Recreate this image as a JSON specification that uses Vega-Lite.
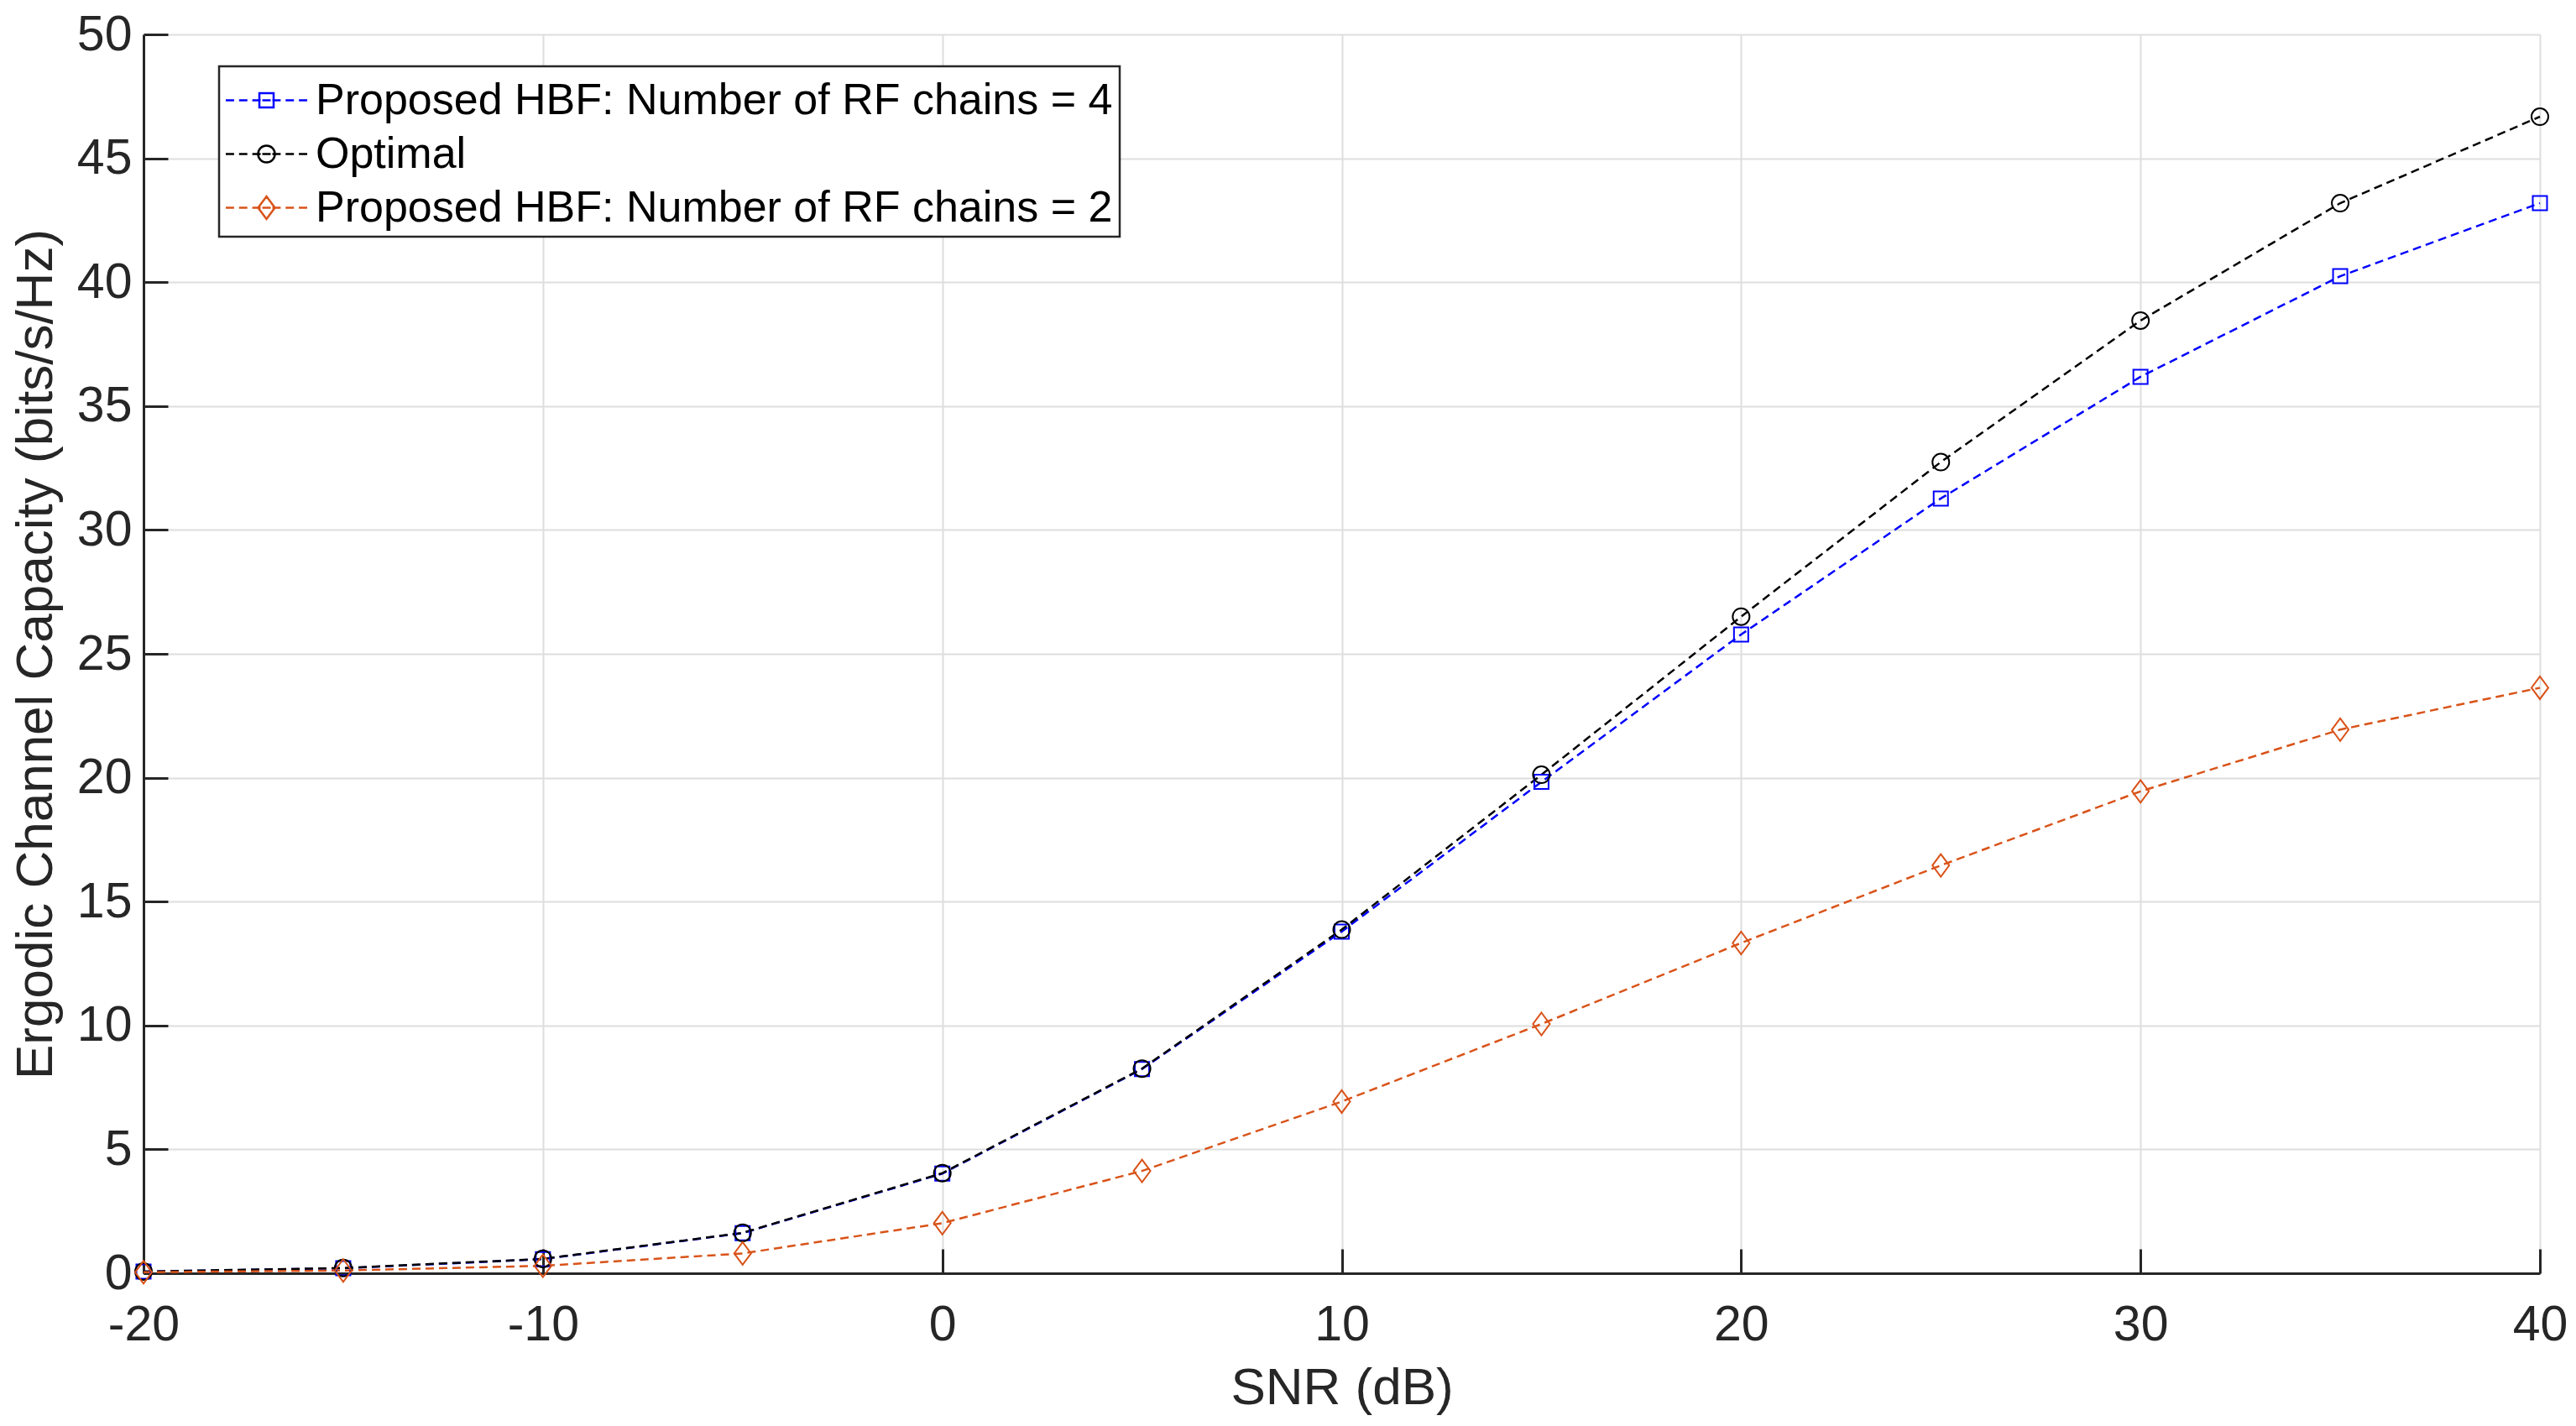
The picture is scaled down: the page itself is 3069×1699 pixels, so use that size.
{
  "$schema": "https://vega.github.io/schema/vega-lite/v6.json",
  "width": 2855,
  "height": 1476,
  "autosize": {"type": "none"},
  "padding": {"left": 171, "top": 41, "right": 43, "bottom": 182},
  "background": "white",
  "config": {"view": {"stroke": null}, "font": "Liberation Sans"},
  "data": {
    "values": [
      {"series": "Proposed HBF: Number of RF chains = 4", "snr": -20, "capacity": 0.07},
      {"series": "Proposed HBF: Number of RF chains = 4", "snr": -15, "capacity": 0.2},
      {"series": "Proposed HBF: Number of RF chains = 4", "snr": -10, "capacity": 0.57},
      {"series": "Proposed HBF: Number of RF chains = 4", "snr": -5, "capacity": 1.62},
      {"series": "Proposed HBF: Number of RF chains = 4", "snr": 0, "capacity": 4.02},
      {"series": "Proposed HBF: Number of RF chains = 4", "snr": 5, "capacity": 8.24},
      {"series": "Proposed HBF: Number of RF chains = 4", "snr": 10, "capacity": 13.79},
      {"series": "Proposed HBF: Number of RF chains = 4", "snr": 15, "capacity": 19.83},
      {"series": "Proposed HBF: Number of RF chains = 4", "snr": 20, "capacity": 25.78},
      {"series": "Proposed HBF: Number of RF chains = 4", "snr": 25, "capacity": 31.27},
      {"series": "Proposed HBF: Number of RF chains = 4", "snr": 30, "capacity": 36.18},
      {"series": "Proposed HBF: Number of RF chains = 4", "snr": 35, "capacity": 40.24},
      {"series": "Proposed HBF: Number of RF chains = 4", "snr": 40, "capacity": 43.19},
      {"series": "Optimal", "snr": -20, "capacity": 0.07},
      {"series": "Optimal", "snr": -15, "capacity": 0.21},
      {"series": "Optimal", "snr": -10, "capacity": 0.58},
      {"series": "Optimal", "snr": -5, "capacity": 1.63},
      {"series": "Optimal", "snr": 0, "capacity": 4.04},
      {"series": "Optimal", "snr": 5, "capacity": 8.26},
      {"series": "Optimal", "snr": 10, "capacity": 13.87},
      {"series": "Optimal", "snr": 15, "capacity": 20.12},
      {"series": "Optimal", "snr": 20, "capacity": 26.5},
      {"series": "Optimal", "snr": 25, "capacity": 32.74},
      {"series": "Optimal", "snr": 30, "capacity": 38.45},
      {"series": "Optimal", "snr": 35, "capacity": 43.19},
      {"series": "Optimal", "snr": 40, "capacity": 46.68},
      {"series": "Proposed HBF: Number of RF chains = 2", "snr": -20, "capacity": 0.04},
      {"series": "Proposed HBF: Number of RF chains = 2", "snr": -15, "capacity": 0.11},
      {"series": "Proposed HBF: Number of RF chains = 2", "snr": -10, "capacity": 0.3},
      {"series": "Proposed HBF: Number of RF chains = 2", "snr": -5, "capacity": 0.8},
      {"series": "Proposed HBF: Number of RF chains = 2", "snr": 0, "capacity": 2.02},
      {"series": "Proposed HBF: Number of RF chains = 2", "snr": 5, "capacity": 4.13},
      {"series": "Proposed HBF: Number of RF chains = 2", "snr": 10, "capacity": 6.93},
      {"series": "Proposed HBF: Number of RF chains = 2", "snr": 15, "capacity": 10.06},
      {"series": "Proposed HBF: Number of RF chains = 2", "snr": 20, "capacity": 13.33},
      {"series": "Proposed HBF: Number of RF chains = 2", "snr": 25, "capacity": 16.46},
      {"series": "Proposed HBF: Number of RF chains = 2", "snr": 30, "capacity": 19.45},
      {"series": "Proposed HBF: Number of RF chains = 2", "snr": 35, "capacity": 21.94},
      {"series": "Proposed HBF: Number of RF chains = 2", "snr": 40, "capacity": 23.63}
    ]
  },
  "encoding": {
    "x": {
      "field": "snr",
      "type": "quantitative",
      "scale": {"domain": [-20, 40], "nice": false, "zero": false},
      "axis": {
        "values": [-20, -10, 0, 10, 20, 30, 40],
        "labelExpr": "toString(datum.value)",
        "title": "SNR (dB)",
        "grid": true,
        "gridColor": "#dedede",
        "gridWidth": 2,
        "domainColor": "#262626",
        "domainWidth": 3,
        "tickColor": "#262626",
        "tickWidth": 3,
        "tickSize": -29,
        "labelFontSize": 59,
        "labelColor": "#262626",
        "labelPadding": 61,
        "labelFlush": false,
        "labelOverlap": false,
        "titleFontSize": 62,
        "titleFontWeight": "normal",
        "titleColor": "#262626",
        "titleY": 106
      }
    },
    "y": {
      "field": "capacity",
      "type": "quantitative",
      "scale": {"domain": [0, 50], "nice": false, "zero": true},
      "axis": {
        "values": [0, 5, 10, 15, 20, 25, 30, 35, 40, 45, 50],
        "labelExpr": "toString(datum.value)",
        "title": "Ergodic Channel Capacity (bits/s/Hz)",
        "grid": true,
        "gridColor": "#dedede",
        "gridWidth": 2,
        "domainColor": "#262626",
        "domainWidth": 3,
        "tickColor": "#262626",
        "tickWidth": 3,
        "tickSize": -29,
        "labelFontSize": 59,
        "labelColor": "#262626",
        "labelPadding": 43,
        "labelFlush": false,
        "labelOverlap": false,
        "titleFontSize": 62,
        "titleFontWeight": "normal",
        "titleColor": "#262626",
        "titleX": -110,
        "titleY": 738,
        "titleBaseline": "alphabetic"
      }
    },
    "color": {
      "field": "series",
      "type": "nominal",
      "scale": {
        "domain": ["Proposed HBF: Number of RF chains = 4", "Optimal", "Proposed HBF: Number of RF chains = 2"],
        "range": ["#0000FF", "#000000", "#D95319"]
      },
      "legend": {
        "title": null,
        "orient": "none",
        "legendX": 90,
        "legendY": 38,
        "labelFontSize": 52,
        "labelFont": "Liberation Sans",
        "labelColor": "#000000",
        "labelLimit": 2000,
        "symbolSize": 3844,
        "symbolStrokeWidth": 2.5,
        "strokeColor": "#262626",
        "fillColor": "white",
        "padding": 8,
        "rowPadding": 5,
        "symbolOffset": 16,
        "labelOffset": 26,
        "encode": {
          "legend": {"update": {"strokeWidth": {"value": 2.5}}},
          "symbols": {
            "update": {
              "shape": {"signal": "datum.value === 'Optimal' ? 'M-1.565,0L-1.245,0M-1.055,0L-0.735,0M-0.545,0L-0.225,0M-0.16,0L0.16,0M0.225,0L0.545,0M0.735,0L1.055,0M1.245,0L1.565,0M0.323,0A0.323,0.323,0,1,1,-0.323,0A0.323,0.323,0,1,1,0.323,0Z' : datum.value === 'Proposed HBF: Number of RF chains = 4' ? 'M-1.565,0L-1.245,0M-1.055,0L-0.735,0M-0.545,0L-0.225,0M-0.16,0L0.16,0M0.225,0L0.545,0M0.735,0L1.055,0M1.245,0L1.565,0M-0.274,-0.274L0.274,-0.274L0.274,0.274L-0.274,0.274Z' : 'M-1.565,0L-1.245,0M-1.055,0L-0.735,0M-0.545,0L-0.225,0M-0.16,0L0.16,0M0.225,0L0.545,0M0.735,0L1.055,0M1.245,0L1.565,0M0,-0.435L0.323,0L0,0.435L-0.323,0Z'"},
              "fill": {"value": "transparent"},
              "stroke": {"scale": "color", "field": "value"},
              "strokeWidth": {"value": 2.5},
              "opacity": {"value": 1}
            }
          }
        }
      }
    }
  },
  "layer": [
    {
      "mark": {"type": "line", "strokeDash": [10, 6], "strokeWidth": 2.5}
    },
    {
      "transform": [{"filter": "datum.series === 'Proposed HBF: Number of RF chains = 4'"}],
      "mark": {"type": "point", "filled": false, "size": 676, "strokeWidth": 2, "opacity": 1, "shape": "M-0.654,-0.654L0.654,-0.654L0.654,0.654L-0.654,0.654Z"}
    },
    {
      "transform": [{"filter": "datum.series === 'Optimal'"}],
      "mark": {"type": "point", "filled": false, "size": 676, "strokeWidth": 2, "opacity": 1, "shape": "M0.77,0A0.77,0.77,0,1,1,-0.77,0A0.77,0.77,0,1,1,0.77,0Z"}
    },
    {
      "transform": [{"filter": "datum.series === 'Proposed HBF: Number of RF chains = 2'"}],
      "mark": {"type": "point", "filled": false, "size": 676, "strokeWidth": 2, "opacity": 1, "shape": "M0,-1.04L0.77,0L0,1.04L-0.77,0Z"}
    }
  ]
}
